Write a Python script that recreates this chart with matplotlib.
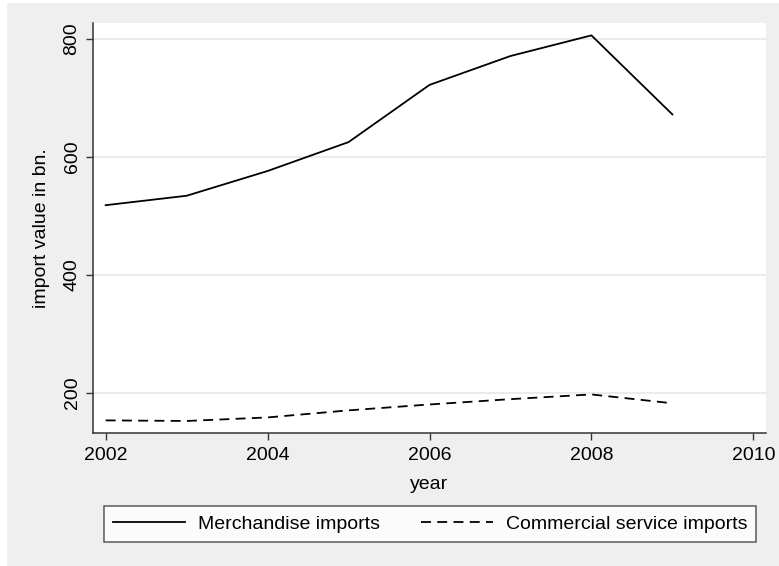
import numpy as np
import matplotlib.pyplot as plt
from matplotlib.lines import Line2D

plt.rcParams['font.family'] = ['Liberation Sans', 'DejaVu Sans']

# data
years = [2002, 2003, 2004, 2005, 2006, 2007, 2008, 2009]
merch = [518, 534, 576, 625, 722, 771, 806, 672]
services = [153, 152, 158, 170, 180, 189, 197, 182]
xticks = [2002, 2004, 2006, 2008, 2010]
yticks = [200, 400, 600, 800]

W, H = 779, 566
bg = "#efefef"
fs = 14

fig = plt.figure(figsize=(W / 100, H / 100), dpi=100)
fig.patch.set_facecolor("white")
# gray graph region (small white margin at left and top)
fig.patches.append(plt.Rectangle((7 / W, 0), 1, 1 - 3 / H, transform=fig.transFigure,
                                 facecolor=bg, edgecolor="none", zorder=-10))

ax = fig.add_axes([93 / W, 1 - 433 / H, (766 - 93) / W, (433 - 23) / H])
ax.set_facecolor("white")

ax.plot(years, merch, color="black", lw=1.3)
ax.plot(years, services, color="black", lw=1.3, dashes=(5.5, 3.5))

ax.set_xlim(2002 - 12.7 / 81, 2010 + 12.7 / 81)
ax.set_ylim(131.6, 827)
ax.set_xticks(xticks)
ax.set_yticks(yticks)
ax.set_yticklabels([str(v) for v in yticks], rotation=90, va="center")
ax.tick_params(labelsize=fs, length=5, width=1, color="#333333")
ax.tick_params(axis="x", pad=5)
ax.tick_params(axis="y", pad=4)
ax.grid(axis="y", color="#e6e6e6", lw=1.1)
ax.set_axisbelow(True)

for side in ["top", "right"]:
    ax.spines[side].set_visible(False)
for side in ["left", "bottom"]:
    ax.spines[side].set_color("#333333")
    ax.spines[side].set_linewidth(1.1)

ax.set_xlabel("year", fontsize=fs, labelpad=9)
ax.set_ylabel("import value in bn.", fontsize=fs, labelpad=10)

handles = [Line2D([], [], color="black", lw=1.3),
           Line2D([], [], color="black", lw=1.3, dashes=(5.5, 3.5))]
leg = fig.legend(handles, ["Merchandise imports", "Commercial service imports"],
                 ncol=2, loc="center", bbox_to_anchor=((104 + 756) / 2 / W, 1 - 524 / H),
                 fontsize=fs, frameon=True, fancybox=False, handlelength=3.7,
                 columnspacing=2.1, handletextpad=0.67, borderpad=0.45)
leg.get_frame().set_edgecolor("#333333")
leg.get_frame().set_linewidth(1.1)

fig.savefig("out.png", dpi=100, facecolor=fig.get_facecolor())
